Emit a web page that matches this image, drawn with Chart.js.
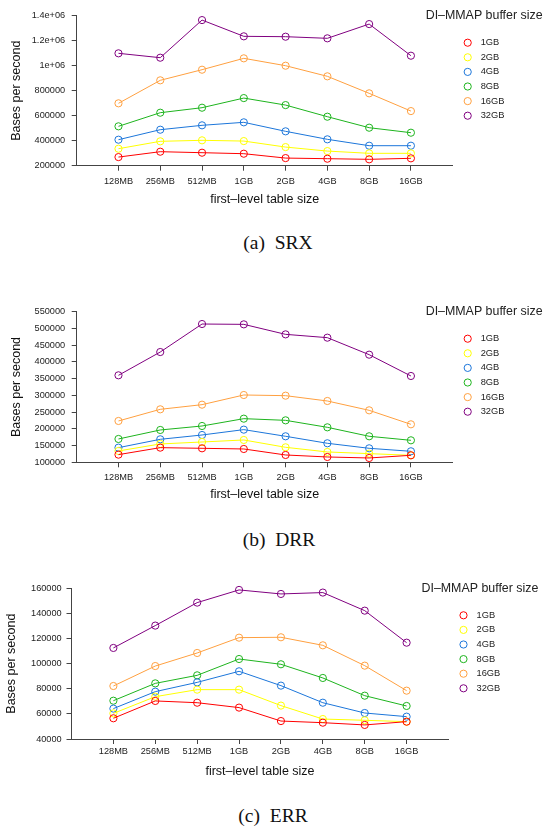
<!DOCTYPE html>
<html>
<head>
<meta charset="utf-8">
<script src="https://cdn.jsdelivr.net/npm/chart.js@4"></script>
<style>
  body { margin: 0; background: #fff; width: 544px; height: 827px; position: relative; overflow: hidden; }
  canvas { position: absolute; left: 0; }
  .cap { position: absolute; font-family: "Liberation Serif", "Times New Roman", serif; font-size: 19.5px;
         color: #111; white-space: pre; transform: translate(-50%, -50%); }
</style>
</head>
<body>
<canvas id="srx" width="544" height="215" style="top:0px"></canvas>
<div class="cap" style="left:278px;top:243px">(a)  SRX</div>
<canvas id="drr" width="544" height="220" style="top:290px"></canvas>
<div class="cap" style="left:279px;top:540px">(b)  DRR</div>
<canvas id="err" width="544" height="220" style="top:565px"></canvas>
<div class="cap" style="left:273px;top:816px">(c)  ERR</div>
<script>
// values (bases per second)
const tableSizes = ['128MB', '256MB', '512MB', '1GB', '2GB', '4GB', '8GB', '16GB'];
const bufferSizes = ['1GB', '2GB', '4GB', '8GB', '16GB', '32GB'];

const srx1GB  = [269000, 312000, 304000, 296000, 261000, 256000, 251000, 259000];
const srx2GB  = [336000, 395000, 403000, 397000, 349000, 317000, 299000, 299000];
const srx4GB  = [408000, 488000, 523000, 547000, 475000, 411000, 360000, 360000];
const srx8GB  = [515000, 624000, 664000, 741000, 685000, 592000, 504000, 464000];
const srx16GB = [699000, 883000, 968000, 1059000, 1000000, 915000, 779000, 637000];
const srx32GB = [1099000, 1064000, 1365000, 1235000, 1232000, 1219000, 1333000, 1080000];

const drr1GB  = [122900, 143800, 141800, 139800, 121900, 115900, 112900, 120900];
const drr2GB  = [133900, 154800, 160700, 166700, 144800, 130900, 125900, 120900];
const drr4GB  = [143800, 168700, 181600, 197600, 177700, 156800, 141800, 132900];
const drr8GB  = [169700, 196600, 208500, 230400, 225400, 204500, 177700, 165700];
const drr16GB = [223500, 258300, 272200, 301100, 299100, 283200, 255300, 213500];
const drr32GB = [359900, 429500, 513200, 512200, 482300, 472400, 421600, 357900];

const err1GB  = [56500, 70300, 68900, 65000, 54300, 53000, 51200, 53800];
const err2GB  = [60400, 73700, 79300, 79300, 66600, 55900, 54900, 53800];
const err4GB  = [64200, 77700, 85100, 93900, 82500, 68900, 60700, 57800];
const err8GB  = [70500, 84300, 90700, 103700, 99500, 88600, 74500, 66300];
const err16GB = [82200, 98100, 108500, 120700, 121000, 114600, 98400, 78500];
const err32GB = [112500, 130300, 148600, 158700, 155500, 156600, 142200, 116700];

const srxTicks = [200000, 400000, 600000, 800000, 1000000, 1200000, 1400000];
const srxTickLabels = ['200000', '400000', '600000', '800000', '1e+06', '1.2e+06', '1.4e+06'];
const drrTicks = [100000, 150000, 200000, 250000, 300000, 350000, 400000, 450000, 500000, 550000];
const drrTickLabels = ['100000', '150000', '200000', '250000', '300000', '350000', '400000', '450000', '500000', '550000'];
const errTicks = [40000, 60000, 80000, 100000, 120000, 140000, 160000];
const errTickLabels = ['40000', '60000', '80000', '100000', '120000', '140000', '160000'];

const colors = ['rgb(255,0,0)', 'rgb(255,255,0)', 'rgb(28,118,218)', 'rgb(30,180,30)', 'rgb(255,160,64)', 'rgb(128,0,128)'];
const sans = '"Liberation Sans", Arial, Helvetica, sans-serif';
const axisCol = '#444';

// legend to the right of the plot, like the R figure
const sideLegend = {
  id: 'sideLegend',
  afterDraw(chart) {
    const ctx = chart.ctx;
    const a = chart.chartArea;
    ctx.save();
    ctx.textBaseline = 'middle';
    ctx.fillStyle = '#222';
    ctx.font = '12.4px ' + sans;
    ctx.fillText('DI\u2013MMAP buffer size', a.right - 27, a.top);
    ctx.font = '9.3px ' + sans;
    chart.data.datasets.forEach((ds, i) => {
      const y = a.top + 27 + 14.6 * i;
      ctx.beginPath();
      ctx.arc(a.right + 15, y, 3.6, 0, Math.PI * 2);
      ctx.strokeStyle = ds.borderColor;
      ctx.lineWidth = 1;
      ctx.stroke();
      ctx.fillText(ds.label, a.right + 28, y);
    });
    ctx.restore();
  }
};

function makeChart(id, series, ticks, tickLabels, g) {
  const datasets = series.map((vals, i) => ({
    label: bufferSizes[i],
    data: vals.map((v, j) => ({ x: j + 1, y: v })),
    borderColor: colors[i],
    backgroundColor: 'rgba(0,0,0,0)',
    borderWidth: 1,
    pointRadius: 3.6,
    pointBorderWidth: 1,
    pointBackgroundColor: 'rgba(0,0,0,0)',
    tension: 0,
    clip: false
  }));

  new Chart(document.getElementById(id), {
    type: 'line',
    data: { datasets },
    plugins: [sideLegend],
    options: {
      responsive: false,
      animation: false,
      layout: { padding: { left: 0, right: g.padRight, top: g.padTop, bottom: g.padBottom } },
      plugins: { legend: { display: false }, tooltip: { enabled: false } },
      scales: {
        x: {
          type: 'linear', min: 0, max: 9,
          afterBuildTicks: s => { s.ticks = tableSizes.map((c, i) => ({ value: i + 1 })); },
          afterFit: s => { s.height = g.xh; },
          ticks: { callback: v => tableSizes[v - 1], color: '#222', font: { family: sans, size: 9.2 },
                   padding: g.xTickPad, maxRotation: 0, autoSkip: false },
          grid: { drawOnChartArea: false, drawTicks: true, tickLength: 5, color: axisCol, tickColor: axisCol },
          border: { display: true, color: axisCol, width: 1 },
          title: { display: true, text: 'first\u2013level table size', color: '#111',
                   font: { family: sans, size: 12.5 }, padding: { top: 0, bottom: 0 } }
        },
        y: {
          min: ticks[0], max: ticks[ticks.length - 1],
          afterBuildTicks: s => { s.ticks = ticks.map(v => ({ value: v })); },
          afterFit: s => { s.width = g.left; },
          ticks: { callback: v => tickLabels[ticks.indexOf(v)], color: '#222', font: { family: sans, size: 9.2 },
                   padding: g.yTickPad },
          grid: { drawOnChartArea: false, drawTicks: true, tickLength: 5, color: axisCol, tickColor: axisCol },
          border: { display: true, color: axisCol, width: 1 },
          title: { display: true, text: 'Bases per second', color: '#111',
                   font: { family: sans, size: 12.5 }, padding: { top: g.yTitlePad, bottom: 0 } }
        }
      }
    }
  });
}

makeChart('srx', [srx1GB, srx2GB, srx4GB, srx8GB, srx16GB, srx32GB], srxTicks, srxTickLabels,
  { left: 76.7, padRight: 91.3, padTop: 15.7, padBottom: 7.5, xh: 41.8, yTitlePad: 8.7, xTickPad: 5, yTickPad: 6.5 });
makeChart('drr', [drr1GB, drr2GB, drr4GB, drr8GB, drr16GB, drr32GB], drrTicks, drrTickLabels,
  { left: 76.7, padRight: 91.3, padTop: 21.7, padBottom: 7.5, xh: 40.2, yTitlePad: 8.7, xTickPad: 5, yTickPad: 6.5 });
makeChart('err', [err1GB, err2GB, err4GB, err8GB, err16GB, err32GB], errTicks, errTickLabels,
  { left: 71.5, padRight: 95.5, padTop: 23.3, padBottom: 5.5, xh: 40.5, yTitlePad: 3.8, xTickPad: 2, yTickPad: 4.8 });
</script>
</body>
</html>
